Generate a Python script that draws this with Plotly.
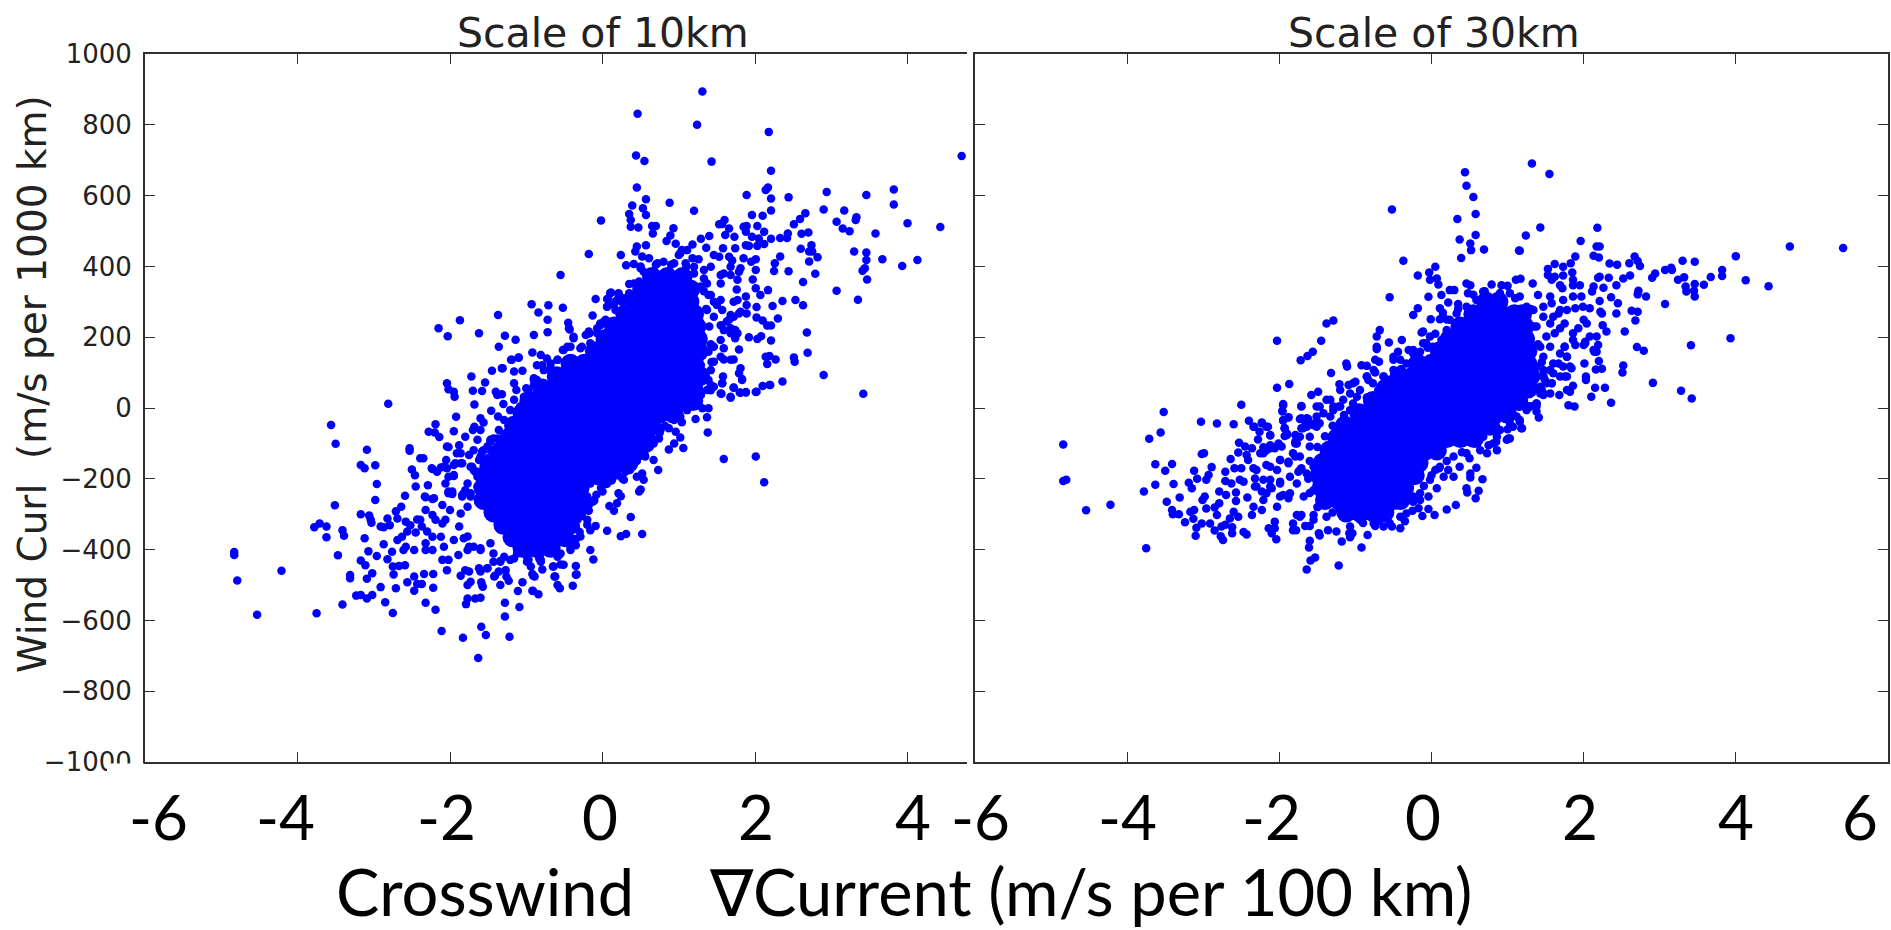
import plotly.graph_objects as go

# ---------- values ----------
y_ticks = [-1000, -800, -600, -400, -200, 0, 200, 400, 600, 800, 1000]
y_tick_text = ["\u22121000", "\u2212800", "\u2212600", "\u2212400", "\u2212200", "0", "200", "400", "600", "800", "1000"]
x_ticks = [-4, -2, 0, 2, 4]
left_x_labels = ["-6", "-4", "-2", "0", "2", "4"]
right_x_labels = ["-6", "-4", "-2", "0", "2", "4", "6"]

# Scale of 10km: individually readable dots (crosswind gradient, wind curl)
left_upper_right = [
(1.31,894),(.46,831),(1.24,800),(2.18,780),(.44,713),(.55,698),(1.43,696),(4.71,712),(2.21,670),(.45,623),
(.57,590),(.88,580),(.39,572),(.53,564),(.57,545),(1.2,557),(.35,548),(.37,531),(-.02,530),(.37,512),
(.47,510),(.65,514),(.70,514),(.66,493),(.93,508),(.89,487),(.84,472),(.96,464),(1.18,462),(1.29,478),
(1.40,486),(1.53,519),(1.60,531),(1.57,520),(1.66,507),(1.61,489),(1.73,484),(1.85,512),(1.89,514),(2.03,514),
(2.12,498),(1.89,602),(1.96,545),(2.10,543),(2.14,616),(2.17,623),(2.21,592),(2.21,558),(2.44,595),(2.66,550),
(2.59,534),(2.51,519),(2.43,493),(2.61,492),(2.70,496),(2.33,480),(2.42,480),(2.21,478),(1.96,484),(2.05,479),
(1.88,498),(1.88,460),(1.92,458),(2.03,458),(2.12,463),(2.94,610),(2.90,561),(3.17,558),(3.33,539),(3.32,531),
(3.07,526),(3.15,507),(3.24,499),(3.46,602),(3.82,617),(3.82,575),(4.0,522),(4.43,511),(3.58,493),(3.30,442),
(3.46,439),(3.46,418),(3.67,420),(4.13,418),(3.93,401),(3.44,395),(3.41,388),(3.47,363),(3.07,331),(3.35,306),
(2.74,460),(2.71,442),(2.75,442),(2.82,426),(2.6,450),(2.71,414),(2.79,379),(2.63,356),(2.44,386),(2.33,428),
(2.26,409),(2.25,387),(2.17,333),(2.53,305),(2.36,302),(2.63,290),(2.23,288),(2.02,285),(2.30,253),(2.02,256),
(2.10,247),(2.21,233),(2.16,233),(2.68,213),(2.69,156),(1.92,200),(2.03,195),(2.08,203),(2.21,191),(1.79,165),
(2.14,145),(2.19,147),(2.27,137),(2.16,124),(2.51,143),(2.52,131),(2.90,93),(3.42,40),(2.36,75),(2.19,65),
(2.10,62),(2.02,46),(1.88,44),(1.80,44),(1.72,57),(1.81,112),(1.79,98),(1.83,82),(1.58,89),(1.57,70),
(1.68,136),(1.72,137),(1.55,145),(1.59,137),(1.46,432),(1.53,427),(1.58,451),(1.66,427),(1.70,417),(1.68,399),
(1.74,451),(1.85,423),(2.01,420),(1.95,413),(1.81,395),(1.79,385),(2.01,390),(1.97,363),(1.77,362),(1.76,335),
(1.55,376),(1.59,380),(1.68,376),(1.55,352),(1.33,390),(1.42,399),(1.36,453),(1.11,446),(1.02,437),(2.01,338),
(2.07,319),(1.88,315),(1.77,305),(1.72,300),(1.89,291),(1.89,267),(1.79,267),(1.68,263),(1.66,249),(1.68,225),
(1.77,211),(1.74,197),(1.46,300),(1.55,305),(1.39,319),(1.57,277),(.45,456),(.57,460),(.43,442),(.52,428),
(.61,423),(.24,432),(-.18,435),(-.55,376),(.31,403),(.41,407),(.50,395),(.54,385),(-.09,308),(.11,326),
(.21,321),(.06,308),(.06,286),(.15,291),(-.13,261),(.02,244),(-.03,234),(-.07,225),(-.18,216),(-.22,206),
(-.93,293),(-.71,290),(-.84,270),(-.52,283),(-.72,249),(-.45,241),(-.43,222),(-.72,214),(-.9,206),(-1.14,193),
(-1.28,204),(-.38,197),(-.17,211),(-.52,164),(-.46,173),(-.29,169),(-.92,157),(-.81,150),(-.73,140),(-.59,136),
(-1.10,142),(-1.19,136),(-1.31,112),(-1.16,103),(-1.05,105),(-1.16,70),(-.79,121),(-.68,112),(-.90,84),
]
left_right_band = [
(1.29,343),(1.37,352),(1.42,319),(1.50,291),(1.37,277),(1.46,258),(1.55,234),(1.63,244),(1.72,258),(1.81,272),
(1.59,220),(1.68,211),(1.74,220),(1.55,192),(1.46,173),(1.59,169),(1.39,159),(1.46,131),(1.42,107),(1.39,79),
(1.46,60),(1.29,46),(1.24,32),(1.55,41),(1.68,32),(1.33,89),(1.29,121),(1.18,423),(1.26,420),(1.04,446),
(1.0,432),(.94,409),(.72,409),(.80,413),(1.09,409),(1.20,399),(1.33,366),(.41,352),(.48,357),(.35,324),
(.19,305),(.17,277),(.28,310),(1.37,51),(1.42,65),(1.29,37),(1.20,23),(1.24,8),(1.11,-6),(1.02,-24),
(.94,-34),(.76,-62),(.74,-86),(.67,-100),(.59,-114),(.45,-109),(.32,-133),(.28,-114),(.15,-137),(.02,-152),
(-.09,-194),(-.16,-213),(-.20,-250),(-.29,-298),(-.33,-316),(-.44,-382),(-.55,-411),(-.73,-401),(-.86,-411),(-.81,-429),
(-.99,-434),(-1.16,-425),(-1.34,-434),(-1.51,-453),
(1.0,-5),(.95,-30),(.82,-50),(.75,-70),(.68,-90),(.62,-110),(.55,-130),(.45,-150),(.38,-165),(.30,-180),
(.2,-190),(.12,-205),(.05,-215),(-.02,-225),(-.08,-245),(-.13,-265),(-.18,-290),(-.2,-330),(-.3,-350),(-.35,-370),
(-.42,-395),(.25,300),(.35,350),(.5,400),(.7,405),(.9,405),(1.1,400),(1.2,380),(1.33,330),(1.36,280),
(1.4,230),(1.42,180),(1.43,130),(1.42,50),
]
left_upper_left = [
(-1.37,263),(-1.87,248),(-2.15,225),(-2.03,203),(-1.62,211),(-1.36,173),(-1.20,136),(-1.10,143),(-1.32,112),(-1.45,105),
(-1.72,89),(-2.04,70),(-1.54,72),(-1.58,48),(-1.70,49),(-2.02,53),(-1.95,46),(-1.94,32),(-1.40,46),(-1.32,39),
(-1.38,37),(-1.13,51),(-1.0,56),(-.90,79),(-1.68,10),(-1.46,-8),(-2.81,12),(-3.56,-48),(-3.50,-101),(-1.92,-25),
(-1.60,-29),(-1.56,-41),(-1.37,-24),(-1.30,11),(-2.19,-46),(-2.28,-67),(-2.20,-69),(-2.14,-82),(-1.95,-66),(-1.68,-53),
(-1.70,-62),(-1.60,-62),(-1.80,-81),(-1.64,-90),(-1.47,-95),(-1.38,-86),(-3.09,-118),(-2.53,-114),(-2.53,-121),(-2.02,-110),
(-1.88,-105),(-1.91,-128),(-1.75,-133),(-1.69,-119),(-1.58,-123),(-2.39,-142),(-2.35,-142),(-2.05,-147),(-1.86,-156),(-1.95,-161),
(-3.17,-161),(-3.12,-170),(-2.98,-162),(-2.50,-174),(-2.46,-190),(-2.24,-170),(-2.17,-180),(-2.08,-166),(-1.71,-166),(-1.64,-180),
(-1.51,-142),(-1.60,-147),(-2.96,-215),(-2.45,-222),(-2.29,-218),(-2.06,-213),(-1.95,-192),(-2.02,-236),(-2.59,-248),(-2.33,-250),
(-2.21,-255),(-1.97,-243),(-1.84,-246),(-2.98,-260),
(-1.16,23),(-1.08,4),(-.99,23),(-1.21,-6),(-1.29,-34),(-1.36,-62),(-1.43,-86),(-1.51,-109),(-1.60,-137),(-1.43,-147),
(-1.56,-166),(-1.64,-194),(-1.64,-222),(-1.73,-241),(-.86,79),(-.77,107),(-.68,126),(-.51,164),(-.42,173),(-.27,173),
(-.18,211),(-.03,239),(.04,249),(.10,324),(.21,324),(.08,305),(.06,286),(.15,230),(-.07,211),(-.16,183),
(-.38,201),(-.44,225),(-.90,65),(-.97,51),(-1.03,32),(-.68,107),(-.59,136),(-.86,121),
]
left_lower_left = [
(-3.51,-275),(-2.32,-252),(-2.23,-257),(-2.64,-279),(-2.71,-292),(-3.17,-300),(-3.06,-304),(-3.04,-316),(-3.03,-324),(-2.82,-312),
(-2.69,-312),(-2.79,-331),(-3.78,-337),(-3.71,-326),(-3.62,-335),(-3.41,-345),(-3.39,-361),(-3.62,-365),(-2.91,-335),(-2.87,-337),
(-3.12,-368),(-2.87,-385),(-3.47,-416),(-3.07,-405),(-2.96,-418),(-2.82,-427),(-3.17,-431),(-3.11,-444),(-4.83,-407),(-4.83,-415),
(-4.79,-487),(-4.21,-460),(-4.53,-584),(-3.75,-580),(-3.31,-472),(-3.31,-481),(-3.09,-482),(-3.02,-467),(-2.74,-470),(-2.75,-448),
(-2.67,-446),(-2.59,-444),(-2.91,-506),(-2.71,-509),(-2.56,-492),(-2.47,-476),(-3.23,-530),(-3.17,-528),(-3.09,-538),(-3.02,-528),
(-3.41,-555),(-2.85,-549),(-2.75,-579),(-2.43,-497),(-2.37,-497),(-2.47,-516),(-2.22,-508),(-2.34,-469),(-2.22,-469),(-2.32,-550),
(-2.19,-570),(-2.11,-630),(-1.83,-649),(-1.63,-706),(-1.59,-618),(-1.53,-641),(-1.22,-646),(-1.28,-589),(-1.28,-550),(-1.09,-562),
(-1.77,-538),(-1.79,-554),(-1.67,-538),(-1.60,-536),(-1.77,-500),(-1.73,-491),(-1.58,-500),(-1.59,-492),(-1.34,-500),(-1.11,-517),
(-1.05,-492),(-1.86,-474),(-1.80,-458),(-1.75,-462),(-1.62,-453),(-1.60,-462),(-1.51,-453),(-1.41,-474),(-1.36,-462),(-1.27,-458),
(-1.26,-476),(-1.23,-488),(-.91,-517),(-.84,-526),(-.91,-474),(-.79,-456),(-.65,-448),(-.62,-476),(-.59,-500),(-.56,-509),
(-.51,-443),(-.35,-446),(-.35,-471),(-.39,-502),(-.16,-401),(-.12,-428),(-.16,-345),(-.09,-333),(-1.34,-432),(-1.43,-434),
(-1.21,-429),(-.97,-429),(-.83,-425),(-2.32,-401),(-2.23,-401),(-2.08,-392),(-2.02,-429),(-2.10,-429),(-2.04,-458),(-1.89,-415),
(-1.77,-401),(-1.60,-396),(-2.32,-382),(-2.12,-364),(-2.23,-364),(-1.95,-373),(-1.82,-368),(-1.75,-392),(-2.69,-373),(-2.63,-364),
(-2.58,-392),(-2.61,-401),(-2.76,-406),(-2.47,-401),(-2.58,-321),(-2.52,-331),(-2.56,-349),(-2.45,-352),(-2.39,-316),(-2.37,-335),
(-2.30,-349),(-2.43,-315),(-2.32,-288),(-2.23,-302),(-2.19,-316),(-2.10,-274),(-2.06,-316),(-2.0,-288),(-2.10,-326),(-2.02,-241),
(-1.97,-236),(-1.84,-250),(-1.80,-232),(-2.02,-194),(-1.95,-189),(-2.23,-172),(-2.12,-168),(-2.04,-170),(-1.93,-156),(-1.84,-156),
(-2.04,-109),(-1.86,-128),(-1.62,-147),(-1.51,-147),(-1.69,-175),(-1.47,-90),(-1.56,-119),
(-1.56,-232),(-1.73,-250),(-1.77,-279),(-1.86,-298),(-1.88,-335),(-1.77,-363),(-1.69,-392),(-1.60,-401),(-1.47,-382),(-1.43,-411),
(-1.29,-420),(-1.12,-411),(-.99,-420),(-.81,-411),(-.59,-420),(-.42,-401),(-.29,-363),(-.20,-316),(-.11,-260),(-.20,-288),
(-1.73,-166),(-1.67,-180),(-1.60,-147),(-1.47,-119),(-1.77,-213),(-1.82,-241),(-1.56,-203),
]
left_lower_right = [
(2.12,-210),(2.01,-137),(1.59,-144),(1.38,-69),(1.37,-26),(1.22,-31),(1.04,-40),(1.39,-1),(1.31,-1),(1.56,40),
(1.68,29),(1.81,43),(1.88,45),(2.01,45),(2.20,65),(1.72,58),(1.57,70),(1.83,79),(1.06,-113),(.87,-117),
(.94,-100),(1.02,-83),(.96,-67),(.87,-57),(.73,-175),(.67,-147),(.54,-203),(.45,-194),(.52,-185),(.56,-137),
(.41,-149),(.48,-236),(.50,-230),(.28,-170),(.36,-175),(.26,-199),(.28,-203),(.13,-199),(.06,-213),(0,-236),
(.07,-185),(.21,-241),(.24,-249),(.09,-277),(.19,-269),(.15,-290),(.37,-308),(.52,-356),(.31,-356),(.24,-362),
(.06,-347),(-.27,-305),(-.35,-335),(-.18,-274),(-.11,-262),(-.35,-388),(-.34,-470),(-.55,-442),(-.64,-448),(-.63,-476),
(-.92,-469),(-.89,-476),(-.92,-516),(-1.57,-505),(-.81,-434),(-.94,-448),(-.57,-415),(-.68,-401),(-.90,-401),(-1.42,-476),
]
# Scale of 10km: saturated centre, too dense to separate; estimated rows of (curl, [gradients])
left_core = [
(370,[.65,.85,1.05]),(335,[.52,.7,.88,1.06,1.15]),(300,[.42,.6,.78,.96,1.14]),(265,[.30,.48,.66,.84,1.02,1.2]),
(230,[.15,.33,.51,.69,.87,1.05,1.23]),(195,[.04,.22,.40,.58,.76,.94,1.12,1.25]),(160,[-.1,.08,.26,.44,.62,.8,.98,1.16,1.26]),
(125,[-.42,-.24,-.06,.12,.3,.48,.66,.84,1.02,1.2]),(90,[-.6,-.42,-.24,-.06,.12,.3,.48,.66,.84,1.02,1.2,1.28]),
(55,[-.79,-.61,-.43,-.25,-.07,.11,.29,.47,.65,.83,1.01,1.19]),(20,[-.96,-.78,-.6,-.42,-.24,-.06,.12,.3,.48,.66,.84,1.02,1.19]),
(-15,[-1.05,-.87,-.69,-.51,-.33,-.15,.03,.21,.39,.57,.75,.93]),(-50,[-1.16,-.98,-.8,-.62,-.44,-.26,-.08,.1,.28,.46,.64]),
(-85,[-1.23,-1.05,-.87,-.69,-.51,-.33,-.15,.03,.21,.39,.57]),(-120,[-1.33,-1.15,-.97,-.79,-.61,-.43,-.25,-.07,.11,.29,.47]),
(-155,[-1.42,-1.24,-1.06,-.88,-.7,-.52,-.34,-.16,.02,.2,.34]),(-190,[-1.51,-1.33,-1.15,-.97,-.79,-.61,-.43,-.25,-.07,.04]),
(-225,[-1.56,-1.38,-1.2,-1.02,-.84,-.66,-.48,-.3]),(-260,[-1.56,-1.38,-1.2,-1.02,-.84,-.66,-.48,-.3]),
(-295,[-1.43,-1.25,-1.07,-.89,-.71,-.53,-.35]),(-330,[-1.3,-1.12,-.94,-.76,-.58,-.43]),(-365,[-1.18,-1.0,-.82,-.64,-.5]),(-395,[-1.05,-.87,-.68]),
]

# Scale of 30km: individually readable dots
right_right = [
(5.41,452),(4.71,456),(4.0,429),(4.13,361),(4.43,344),(3.82,390),(3.82,373),(3.67,370),(3.58,348),(3.30,416),
(3.46,413),(3.07,390),(3.15,396),(3.16,390),(2.94,380),(2.90,368),(3.24,362),(3.32,369),(3.46,350),(3.34,343),
(3.35,329),(3.45,331),(3.46,315),(3.07,294),(2.82,315),(2.72,331),(2.71,321),(2.67,428),(2.71,415),(2.74,401),
(2.60,409),(2.34,408),(2.44,405),(2.61,374),(2.52,366),(2.43,347),(2.33,368),(2.21,371),(2.19,368),(2.26,340),
(2.36,313),(2.45,296),(2.43,267),(2.22,272),(2.24,267),(2.63,275),(2.71,272),(2.68,247),(2.54,216),(2.30,216),
(2.25,234),(3.93,197),(3.41,177),(2.70,172),(2.79,162),(2.91,71),(3.28,49),(3.42,27),(2.36,15),(2.28,57),
(2.15,57),(2.10,32),(2.52,120),(2.51,100),(2.01,126),(2.20,133),(2.16,109),(2.24,111),(2.03,89),(2.03,79),
(2.19,178),(2.17,202),(2.14,159),(2.17,159),(1.88,4),(1.80,8),(1.86,63),(1.82,46),(1.78,51),(1.68,37),
(1.56,41),(1.41,-27),(2.18,509),(1.96,472),(1.43,510),(1.24,487),(1.16,444),(2.17,456),(2.21,456),(2.13,430),
(2.20,425),(1.89,428),(1.83,409),(1.73,399),(1.62,407),(1.53,393),(1.85,383),(1.53,376),(1.73,374),(1.62,371),
(1.58,362),(1.86,362),(1.86,347),(1.95,347),(1.69,347),(1.72,338),(2.13,343),(2.11,329),(1.97,315),(1.86,315),
(1.73,305),(1.56,315),(1.58,296),(2.21,302),(2.08,282),(1.99,286),(1.89,282),(1.78,277),(1.69,277),(1.67,267),
(1.60,258),(2.04,239),(2.0,249),(1.93,225),(1.86,211),(1.75,239),(1.69,225),(1.62,211),(2.08,202),(2.02,183),
(1.89,178),(1.75,173),(1.69,154),(1.78,145),(1.84,112),(1.73,117),(1.69,89),(1.78,89),(1.60,98),(1.58,70),
(1.43,41),(1.36,8),(1.29,4),(1.47,89),(1.32,691),(1.55,661),
]
right_top = [
(.44,666),(.46,628),(.55,596),(.58,548),(.34,534),(-.52,561),(.58,489),(.37,476),(.51,465),(.52,446),
(.69,448),(.39,424),(1.15,445),(-.37,416),(-.55,313),(-.18,374),(-.03,383),(.05,399),(.07,366),(-.02,362),
(.09,349),(-.04,314),(.13,319),(.24,333),(.30,333),(.46,352),(.51,347),(.48,324),(.79,349),(.92,347),
(1.0,345),(1.11,362),(1.17,365),(1.33,352),(1.40,319),(.68,329),(-.18,282),(-.24,263),(-.01,251),(.11,251),
(.11,282),(.15,269),(.22,298),(.35,294),(-1.38,239),(-1.29,247),(-2.03,190),(-1.45,190),(-1.56,159),(-1.63,147),
(-1.72,135),(-.68,220),(-.72,202),(-.72,173),(-.72,167),(-.56,185),(-.39,192),(-.44,159),(-.24,164),(-.30,164),
(-.15,159),(-.11,216),(-.13,213),(-.02,202),(-.06,178),(.02,173),(.20,211),(.13,192),(-.11,183),(-1.32,99),
(-1.12,126),(-1.11,117),(-.92,121),(-.85,119),(-.74,136),(-.69,131),(-.5,145),(-.41,136),(-.74,100),(-.85,89),
(-1.87,68),(-2.03,57),(-1.58,37),(-1.49,46),(-1.21,67),(-1.09,65),(-1.0,74),(-.83,79),(-1.71,4),(-1.95,11),
(-1.96,-8),(-1.88,-27),(-1.95,-36),(-1.71,-29),(-1.64,-29),(-1.47,4),(-1.33,23),(-1.22,4),(-1.07,-6),(-.98,32),
(-2.23,-41),(-2.34,-53),(-2.17,-53),(-2.12,-78),(-1.93,-57),(-1.93,-79),(-1.79,-76),(-1.79,-95),(-2.01,-100),(-2.12,-105),
(-2.21,-111),(-1.71,-57),(-1.56,-48),(1.19,-57),(1.16,-39),(1.03,-86),(.99,-90),(.88,-62),(1.29,4),(1.38,4),
(1.16,4),(1.47,37),(1.49,79),(1.58,70),(1.56,107),(1.75,89),(1.82,117),(1.67,126),(1.75,173),(1.86,192),
(2.0,178),(2.02,187),(2.13,164),(1.78,145),
(.24,249),(.33,267),(.20,220),(.07,173),(.46,286),(.59,305),(.77,296),(.90,315),(1.03,324),(1.16,315),
(1.25,286),(1.34,277),(1.47,286),(1.47,258),(1.56,239),(1.38,230),(1.51,202),(1.43,173),(1.56,173),(1.47,145),
(1.38,117),(1.60,126),(1.47,107),(1.51,70),(1.43,60),(1.38,13),(1.25,-6),(1.12,-24),(1.03,-43),(.86,-81),
(.77,-62),(.68,-81),(-.20,136),(-.33,126),(-.50,107),(-.63,89),(-.77,70),(-.94,51),(-1.07,41),(-1.16,23),
(-1.29,4),(-1.42,-15),(-1.51,-24),(-1.64,-53),(-1.60,-81),(-1.73,-81),(-1.47,-43),(-1.33,-24),(-1.20,4),(-1.03,13),
(1.45,130),(1.47,90),(1.45,50),(1.38,-10),(.05,210),(.2,250),(.35,280),(.55,320),(.7,330),(.9,325),
(1.1,310),(1.3,280),(1.35,230),(1.4,180),(-.85,30),(-.7,50),(-.55,80),(-.4,110),(-.2,150),(-.05,170),
]
right_lower_left = [
(-4.84,-103),(-4.84,-206),(-4.80,-203),(-4.22,-273),(-4.54,-289),(-3.75,-396),(-3.78,-236),(-3.63,-159),(-3.50,-177),(-3.41,-158),
(-3.63,-217),(-3.39,-215),(-3.52,-11),(-3.56,-69),(-3.71,-87),(-3.03,-39),(-2.82,-44),(-2.60,-46),(-2.40,-36),(-2.33,-53),
(-2.23,-43),(-2.15,-53),(-2.50,9),(-2.26,-67),(-2.28,-89),(-2.12,-76),(-3.02,-130),(-2.99,-128),(-3.12,-177),(-3.08,-200),
(-2.89,-167),(-2.93,-189),(-2.96,-203),(-3.19,-211),(-3.15,-227),(-3.31,-253),(-3.48,-265),(-3.41,-288),(-3.40,-300),(-3.32,-300),
(-3.17,-293),(-3.12,-288),(-3.24,-323),(-3.13,-313),(-3.09,-338),(-3.02,-326),(-2.91,-326),(-3.10,-361),(-2.85,-346),(-2.76,-335),
(-2.71,-330),(-2.77,-362),(-2.74,-373),(-2.62,-337),(-2.62,-354),(-2.47,-350),(-2.43,-357),(-2.98,-250),(-3.01,-260),(-2.79,-236),
(-2.70,-246),(-2.57,-239),(-2.57,-263),(-2.42,-253),(-2.96,-284),(-2.85,-281),(-2.79,-269),(-2.82,-302),(-2.65,-312),(-2.60,-293),
(-2.54,-307),(-2.71,-180),(-2.71,-206),(-2.64,-144),(-2.59,-170),(-2.50,-170),(-2.52,-203),(-2.47,-208),(-2.63,-213),(-2.53,-98),
(-2.54,-126),(-2.43,-133),(-2.45,-109),(-2.36,-114),(-2.34,-170),(-2.41,-147),(-2.32,-199),(-2.32,-222),(-2.23,-236),(-2.21,-260),
(-2.34,-279),(-2.23,-288),(-2.36,-302),(-2.21,-128),(-2.12,-114),(-2.01,-104),(-1.97,-109),(-2.17,-161),(-1.99,-147),(-1.88,-152),
(-2.03,-175),(-2.12,-203),(-1.99,-208),(-2.10,-227),(-1.95,8),(-1.96,-10),(-1.71,6),(-1.95,-34),(-1.88,-26),(-1.73,-31),
(-1.62,-31),(-1.93,-57),(-1.90,-76),(-1.79,-100),(-1.69,-57),(-1.53,-43),(-1.79,-137),(-1.75,-180),(-1.71,-170),(-2.06,-321),
(-2.06,-340),(-2.14,-340),(-2.10,-354),(-2.04,-371),(-1.82,-326),(-1.82,-345),(-1.78,-345),(-1.66,-333),(-1.60,-333),(-1.77,-302),
(-1.71,-302),(-1.55,-302),(-1.95,-246),(-1.88,-255),(-2.03,-279),(-1.48,-354),(-1.47,-360),(-1.60,-375),(-1.61,-394),(-1.53,-422),
(-1.59,-431),(-1.64,-456),(-1.22,-445),(-1.36,-345),(-1.25,-349),(-1.18,-377),(-1.08,-354),(-1.04,-354),(-1.07,-365),(-.92,-394),
(-.84,-359),(-.74,-333),(-.63,-335),(-.52,-335),(-.41,-340),
(-2.25,-128),(-2.17,-119),(-2.06,-114),(-2.12,-166),(-1.99,-147),(-1.88,-156),(-1.82,-128),(-1.73,-137),(-1.60,-109),(-1.73,-175),
(-1.86,-194),(-1.99,-213),(-2.12,-222),(-2.21,-203),(-2.30,-175),(-2.30,-222),(-2.17,-241),(-1.99,-250),(-1.86,-241),(-1.77,-213),
(-1.68,-250),(-1.55,-232),(-1.64,-185),(-1.55,-166),(-1.51,-203),(-1.90,-72),(-1.77,-81),(-1.77,-100),(-1.68,-34),(-1.60,-43),
(-1.51,-53),(-1.51,4),(-1.38,23),(-1.29,-6),(-1.20,51),(-1.03,70),(-.85,89),(-.76,107),(-.63,89),(-.50,136),
(-.24,154),(-.07,183),(-1.73,-307),(-1.55,-316),(-1.38,-307),(-1.20,-288),(-1.07,-335),(-.94,-316),(-.76,-326),(-.41,-307),
(-.33,-298),(-.55,-325),(-.7,-320),(-.9,-325),(-1.15,-310),(-1.3,-295),(-1.5,-280),(-1.6,-240),(-1.62,-200),(-1.6,-150),
(-1.5,-110),(-1.4,-80),(-1.3,-50),(-1.15,-20),(-1.0,0),
]
right_lower_right = [
(1.18,-57),(1.01,-86),(.86,-119),(.73,-128),(.67,-201),(.59,-169),(.62,-234),(.58,-255),(.46,-227),(.47,-239),
(.51,-185),(.51,-196),(.32,-274),(.20,-287),(.04,-302),(-.04,-285),(-.12,-305),(-.04,-250),(.07,-227),(-.17,-283),
(-.24,-265),(.16,-194),(.29,-194),(.37,-166),(.22,-175),(.05,-175),(.50,-142),
(-.24,-250),(-.15,-241),(-.02,-203),(.11,-166),(.29,-137),(.46,-128),(.64,-119),(.81,-100),(.90,-62),(1.07,-53),
(1.16,-34),(1.29,4),(1.38,13),(1.47,41),
(1.0,-60),(.85,-95),(.75,-105),(.6,-100),(.4,-125),(.2,-150),(.1,-170),(0,-190),(-.1,-220),(-.15,-260),
(-.25,-290),(-.35,-320),
]
# Scale of 30km: saturated centre, estimated rows of (curl, [gradients])
right_core = [
(300,[.72,.88]),(265,[.55,.73,.91,1.09,1.19]),(230,[.38,.56,.74,.92,1.1,1.22]),(195,[.24,.42,.6,.78,.96,1.14,1.23]),
(160,[.11,.29,.47,.65,.83,1.01,1.19,1.26]),(125,[-.18,0,.18,.36,.54,.72,.9,1.08,1.26]),
(90,[-.42,-.24,-.06,.12,.3,.48,.66,.84,1.02,1.2,1.3]),(55,[-.6,-.42,-.24,-.06,.12,.3,.48,.66,.84,1.02,1.2,1.27]),
(20,[-.77,-.59,-.41,-.23,-.05,.13,.31,.49,.67,.85,1.03,1.14]),(-15,[-.95,-.77,-.59,-.41,-.23,-.05,.13,.31,.49,.67,.85,.99]),
(-50,[-1.14,-.96,-.78,-.6,-.42,-.24,-.06,.12,.3,.48,.66,.77]),(-85,[-1.24,-1.06,-.88,-.7,-.52,-.34,-.16,.02,.2,.38,.56]),
(-120,[-1.34,-1.16,-.98,-.8,-.62,-.44,-.26,-.08,.07]),(-155,[-1.43,-1.25,-1.07,-.89,-.71,-.53,-.35,-.17]),
(-190,[-1.47,-1.29,-1.11,-.93,-.75,-.57,-.39,-.22]),(-225,[-1.44,-1.26,-1.08,-.9,-.72,-.54,-.36]),
(-260,[-1.4,-1.22,-1.04,-.86,-.68,-.5,-.41]),(-295,[-1.12,-.94,-.76,-.62]),
]

# ---------- layout ----------
W, H = 1891, 930
BLUE = "#0000ff"
INK = "#303030"
def px(v): return v / W
def py(v): return 1 - v / H

def split(*groups):
    pts = [p for g in groups for p in g]
    return [p[0] for p in pts], [p[1] for p in pts]

def core_xy(rows):
    xs, ys = [], []
    for c, gs in rows:
        for g in gs:
            xs.append(g); ys.append(c)
    return xs, ys

fig = go.Figure()
lx, ly = split(left_upper_right, left_right_band, left_upper_left, left_lower_left, left_lower_right)
rx, ry = split(right_right, right_top, right_lower_left, right_lower_right)
lcx, lcy = core_xy(left_core)
rcx, rcy = core_xy(right_core)
fig.add_trace(go.Scatter(x=lcx, y=lcy, mode="markers", marker=dict(color=BLUE, size=20), xaxis="x", yaxis="y", hoverinfo="skip"))
fig.add_trace(go.Scatter(x=lx, y=ly, mode="markers", marker=dict(color=BLUE, size=8.5), xaxis="x", yaxis="y"))
fig.add_trace(go.Scatter(x=rcx, y=rcy, mode="markers", marker=dict(color=BLUE, size=20), xaxis="x2", yaxis="y2", hoverinfo="skip"))
fig.add_trace(go.Scatter(x=rx, y=ry, mode="markers", marker=dict(color=BLUE, size=8.5), xaxis="x2", yaxis="y2"))

common = dict(showgrid=False, zeroline=False, showline=True, linecolor=INK, linewidth=2, automargin=False,
              ticks="inside", ticklen=10, tickwidth=1, tickcolor=INK)
fig.update_layout(
    width=W, height=H, margin=dict(l=0, r=0, t=0, b=0, autoexpand=False), showlegend=False,
    paper_bgcolor="white", plot_bgcolor="white",
    xaxis=dict(domain=[px(145), px(967)], range=[-6, 4.78], tickvals=x_ticks, showticklabels=False, mirror="ticks", anchor="y", **common),
    yaxis=dict(domain=[py(762), py(54)], range=[-1000, 1000], tickvals=y_ticks, ticktext=y_tick_text, mirror=False, anchor="x",
               tickfont=dict(family="DejaVu Sans", size=26, color="#222222"), ticklabelstandoff=6, **common),
    xaxis2=dict(domain=[px(975), px(1888)], range=[-6, 6], tickvals=x_ticks, showticklabels=False, mirror="ticks", anchor="y2", **common),
    yaxis2=dict(domain=[py(762), py(54)], range=[-1000, 1000], tickvals=y_ticks, showticklabels=False, mirror="ticks", anchor="x2", **common),
    shapes=[dict(type="rect", xref="paper", yref="paper", x0=px(107), x1=px(144), y0=py(778), y1=py(763.5),
                 fillcolor="white", line_width=0, layer="above")],
)

def note(text, x, y, family, size, color="#000000", angle=0):
    fig.add_annotation(text=text, xref="paper", yref="paper", x=px(x), y=py(y), showarrow=False,
                       xanchor="center", yanchor="middle", textangle=angle,
                       font=dict(family=family, size=size, color=color))

for t, p in zip(left_x_labels, [158, 285, 446, 600, 756, 913]):
    note(t, p, 816, "Lato", 62)
for t, p in zip(right_x_labels, [980, 1127, 1271, 1423, 1580, 1736, 1860]):
    note(t, p, 816, "Lato", 62)
note("Crosswind", 485, 891, "Lato", 65)
note("\u2207Current (m/s per 100 km)", 1090, 891, "Lato", 65)
note("Scale of 10km", 603, 33, "DejaVu Sans", 41, "#222222")
note("Scale of 30km", 1434, 33, "DejaVu Sans", 41, "#222222")
note("Wind Curl\u00a0\u00a0(m/s per 1000 km)", 33, 384, "DejaVu Sans", 39, "#222222", -90)

fig.write_html("out.html", config=dict(displayModeBar=False),
               post_script="document.body.style.margin='0';document.body.style.overflow='hidden';")
